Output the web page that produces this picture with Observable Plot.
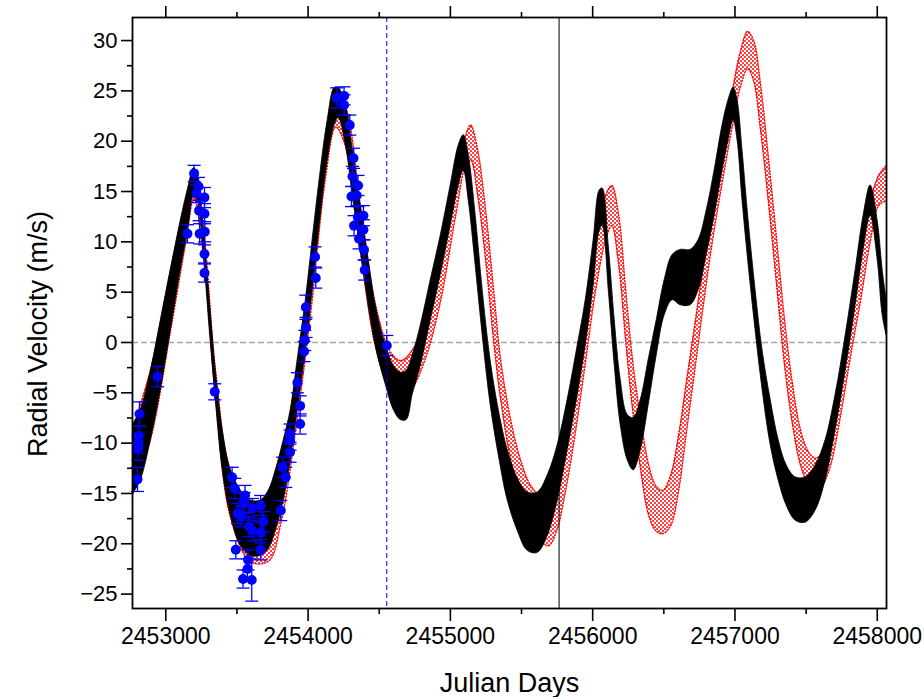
<!DOCTYPE html>
<html>
<head>
<meta charset="utf-8">
<script src="https://cdn.jsdelivr.net/npm/d3@7"></script>
<script src="https://cdn.jsdelivr.net/npm/@observablehq/plot@0.6"></script>
<style>
  html, body { margin: 0; padding: 0; background: #fff; }
  #chart { width: 924px; height: 697px; }
</style>
</head>
<body>
<div id="chart"></div>
<script>
// ---------- tick values ----------
const xMajor = [2453000, 2454000, 2455000, 2456000, 2457000, 2458000];
const xMinor = [2453500, 2454500, 2455500, 2456500, 2457500];
const yMajor = [-25, -20, -15, -10, -5, 0, 5, 10, 15, 20, 25, 30];
const yMinor = [-22.5, -17.5, -12.5, -7.5, -2.5, 2.5, 7.5, 12.5, 17.5, 22.5, 27.5];

// ---------- model 1 (black band): Julian day, upper and lower envelope (m/s) ----------
const blackJD = [2452768,2452824,2452895,2452965,2453035,2453105,2453162,2453197,2453225,2453267,2453309,2453351,2453400,2453457,2453527,2453597,2453667,2453724,2453773,2453829,2453878,2453927,2453984,2454040,2454089,2454138,2454187,2454215,2454265,2454314,2454370,2454426,2454482,2454546,2454602,2454651,2454693,2454735,2454792,2454862,2454932,2455002,2455059,2455094,2455129,2455178,2455227,2455283,2455340,2455403,2455473,2455543,2455614,2455684,2455754,2455824,2455895,2455951,2456007,2456049,2456070,2456113,2456155,2456197,2456246,2456288,2456338,2456394,2456450,2456506,2456562,2456618,2456688,2456745,2456801,2456857,2456913,2456955,2456990,2457018,2457053,2457096,2457145,2457194,2457251,2457307,2457363,2457426,2457497,2457567,2457637,2457707,2457778,2457848,2457904,2457953,2458003,2458038,2458066];
const blackHi = [-8.2,-6.7,-2.8,2.2,7.2,12.1,15.6,17.3,16.6,11.2,4.2,-2.8,-8.7,-12.7,-14.7,-15.7,-15.7,-14.7,-12.7,-9.7,-6.7,-1.7,4.2,11.2,17.1,22.1,25.3,25.3,23.6,19.1,13.6,8.2,3.2,-0.3,-2.3,-3.0,-2.8,-1.3,1.7,6.2,10.6,15.6,19.6,20.6,18.6,12.6,5.2,-1.8,-6.7,-10.7,-13.5,-14.9,-14.9,-13.2,-10.2,-5.7,-0.3,4.2,10.2,15.1,15.3,9.6,2.2,-3.7,-7.2,-7.5,-5.7,-1.7,2.2,6.2,8.7,9.2,9.2,10.2,13.1,17.1,21.6,24.1,25.3,24.1,19.1,12.1,5.2,-0.8,-5.7,-9.7,-12.2,-13.4,-13.4,-12.2,-9.7,-5.2,0.7,7.2,12.6,15.6,12.1,7.2,4.2];
const blackLo = [-15.1,-13.7,-9.7,-4.7,1.2,7.2,11.6,14.6,14.1,8.7,1.2,-5.7,-12.7,-17.2,-20.2,-21.2,-21.2,-20.5,-18.7,-15.7,-11.7,-6.7,-0.8,6.2,12.6,18.1,21.6,22.3,19.6,14.6,9.1,3.7,-0.8,-4.2,-6.7,-7.7,-7.7,-5.2,-2.3,2.2,6.7,11.6,15.6,17.1,14.1,7.6,0.7,-6.2,-11.2,-15.7,-18.7,-20.7,-20.9,-19.2,-15.7,-10.7,-5.2,-0.3,5.7,11.1,11.6,5.2,-2.3,-8.2,-11.7,-12.7,-10.7,-6.2,-1.3,2.7,4.2,3.7,3.7,5.2,8.7,12.6,17.1,20.1,22.1,20.1,14.1,7.7,1.2,-4.7,-10.2,-13.7,-16.2,-17.7,-17.9,-16.7,-13.7,-8.7,-2.8,3.7,9.2,12.6,8.2,2.7,0.7];

// ---------- model 2 (red dotted band) ----------
const redJD = [2452768,2452895,2453035,2453141,2453197,2453267,2453351,2453457,2453597,2453724,2453808,2453913,2454019,2454124,2454194,2454265,2454370,2454475,2454581,2454651,2454721,2454827,2454932,2455037,2455108,2455143,2455192,2455248,2455304,2455354,2455424,2455494,2455564,2455635,2455691,2455747,2455810,2455881,2455951,2456021,2456091,2456134,2456183,2456232,2456281,2456338,2456394,2456443,2456492,2456548,2456604,2456661,2456717,2456773,2456843,2456913,2456983,2457040,2457089,2457131,2457180,2457237,2457293,2457349,2457405,2457461,2457518,2457567,2457616,2457672,2457743,2457813,2457883,2457953,2458010,2458066];
const redHi = [-8.5,-2.6,7.4,14.2,17.1,11.0,-2.9,-12.8,-16.0,-15.0,-12.0,-3.5,8.0,20.0,24.8,23.3,13.3,3.7,-1.0,-1.8,-1.0,2.4,8.7,16.6,20.6,21.6,19.1,13.1,5.2,-1.8,-7.7,-11.7,-14.2,-15.2,-14.9,-12.7,-8.7,-2.8,3.2,10.2,14.6,15.6,12.6,5.2,-1.8,-7.7,-12.2,-14.2,-14.7,-13.2,-9.2,-3.7,1.7,7.2,14.1,20.1,25.1,29.0,30.9,30.0,25.6,18.1,10.2,2.2,-4.2,-8.7,-10.9,-11.5,-10.9,-8.2,-3.2,2.7,8.7,14.1,16.6,17.6];
const redLo = [-15.0,-9.5,1.3,10.0,14.3,8.4,-5.8,-17.5,-21.8,-21.7,-18.0,-8.7,3.0,16.5,21.4,19.4,8.8,-0.5,-4.8,-5.5,-4.8,-1.5,4.2,12.6,17.6,18.1,14.6,8.2,0.2,-5.7,-11.7,-15.7,-18.2,-19.7,-20.2,-18.7,-14.7,-8.7,-1.8,5.2,10.2,11.6,7.7,0.2,-6.7,-12.7,-17.2,-18.7,-19.0,-18.2,-14.7,-8.7,-2.8,3.2,10.2,16.1,21.6,25.5,27.2,26.0,21.1,13.7,5.7,-2.3,-8.2,-12.2,-14.2,-14.9,-14.2,-12.2,-7.2,-1.3,4.2,10.2,13.6,14.1];

// ---------- observations (blue): Julian day, RV (m/s), error (m/s) ----------
const obsJD  = [2452801,2452805,2452807,2452810,2452815,2452942,2453152,2453199,2453216,2453230,2453234,2453238,2453272,2453272,2453274,2453272,2453272,2453344,2453466,2453485,2453492,2453504,2453532,2453546,2453543,2453550,2453557,2453574,2453578,2453585,2453604,2453609,2453609,2453667,2453667,2453667,2453686,2453808,2453820,2453843,2453873,2453873,2453873,2453925,2453944,2453944,2453972,2453977,2453986,2453984,2454049,2454054,2454201,2454253,2454253,2454293,2454319,2454312,2454351,2454342,2454305,2454389,2454351,2454323,2454389,2454358,2454393,2454398,2454553];
const obsRV  = [-13.6,-10.5,-10.0,-9.3,-7.1,-3.4,10.8,16.8,14.8,15.5,13.1,10.8,14.4,12.8,11.0,8.8,6.9,-4.9,-13.4,-14.5,-20.6,-17.0,-17.3,-16.0,-23.5,-15.9,-15.2,-22.5,-21.6,-18.3,-23.6,-18.7,-16.5,-16.2,-18.9,-20.6,-17.8,-16.7,-12.4,-13.4,-10.9,-9.7,-9.1,-4.0,-8.1,-6.3,-0.9,0.2,1.5,3.5,8.5,6.4,24.3,24.5,23.6,21.6,18.3,16.5,15.6,14.6,14.5,12.6,12.5,11.6,11.2,10.3,9.2,7.2,-0.3];
const obsErr = [1.2,1.2,1.0,1.0,1.2,1.0,0.9,0.8,0.9,0.9,1.0,1.0,1.0,1.0,1.0,0.9,0.9,0.8,1.0,1.0,0.9,1.0,1.0,1.0,0.9,1.0,1.0,1.0,1.0,1.0,2.1,1.0,1.0,1.0,1.0,1.0,1.0,1.0,1.0,1.0,1.0,1.0,1.0,1.0,1.0,1.0,1.0,1.0,1.0,1.2,1.0,1.0,1.0,0.9,1.0,1.0,1.0,1.0,1.0,1.0,1.0,1.0,1.0,1.0,1.0,1.0,1.0,1.0,1.0];

// ---------- reference lines ----------
const blueLineJD = [2454553];
const blackLineJD = [2455764];
const zeroLine = [0];

// ---------- tables ----------
const black = blackJD.map((d, i) => ({jd: d, hi: blackHi[i], lo: blackLo[i]}));
const red = redJD.map((d, i) => ({jd: d, hi: redHi[i], lo: redLo[i]}));
const obs = obsJD.map((d, i) => ({jd: d, rv: obsRV[i], err: obsErr[i]}));

const capSymbol = {
  draw(ctx, size) {
    const w = Math.sqrt(size / Math.PI);
    ctx.moveTo(-w, 0);
    ctx.lineTo(w, 0);
  }
};

const FONT = "'Liberation Sans', Arial, Helvetica, sans-serif";

const chart = Plot.plot({
  width: 924,
  height: 697,
  marginLeft: 132,
  marginRight: 38,
  marginTop: 17,
  marginBottom: 89,
  style: {fontFamily: FONT, color: "black", background: "white", overflow: "visible"},
  x: {domain: [2452766, 2458065]},
  y: {domain: [-26.43, 32.29]},
  marks: [
    // zero line
    Plot.ruleY(zeroLine, {stroke: "#a8a8a8", strokeWidth: 1.5, strokeDasharray: "6,3"}),
    // red model band
    Plot.areaY(red, {x: "jd", y1: "lo", y2: "hi", fill: "url(#redDots)", curve: "catmull-rom", clip: true}),
    Plot.lineY(red, {x: "jd", y: "hi", stroke: "red", strokeWidth: 1.4, strokeDasharray: "1.2,1.8", curve: "catmull-rom", clip: true}),
    Plot.lineY(red, {x: "jd", y: "lo", stroke: "red", strokeWidth: 1.4, strokeDasharray: "1.2,1.8", curve: "catmull-rom", clip: true}),
    // black model band
    Plot.areaY(black, {x: "jd", y1: "lo", y2: "hi", fill: "black", stroke: "black", strokeWidth: 0.8, curve: "catmull-rom", clip: true}),
    // vertical markers
    Plot.ruleX(blueLineJD, {stroke: "blue", strokeWidth: 1, strokeDasharray: "5,3"}),
    Plot.ruleX(blackLineJD, {stroke: "black", strokeWidth: 1}),
    // observations with error bars
    Plot.ruleX(obs, {x: "jd", y1: d => d.rv - d.err, y2: d => d.rv + d.err, stroke: "blue", strokeWidth: 1.3}),
    Plot.dot(obs, {x: "jd", y: d => d.rv + d.err, symbol: capSymbol, r: 6.5, stroke: "blue", strokeWidth: 1.3, fill: "none"}),
    Plot.dot(obs, {x: "jd", y: d => d.rv - d.err, symbol: capSymbol, r: 6.5, stroke: "blue", strokeWidth: 1.3, fill: "none"}),
    Plot.dot(obs, {x: "jd", y: "rv", r: 5, fill: "blue", stroke: "none"}),
    // axes
    Plot.axisX({ticks: xMajor, tickSize: 13, tickPadding: 6, tickFormat: d => String(d), fontSize: 23, strokeWidth: 1.6, label: null}),
    Plot.axisX({ticks: xMinor, tickSize: 6, text: null, strokeWidth: 1.6, label: null}),
    Plot.axisX({anchor: "top", ticks: xMajor, tickSize: 12, text: null, strokeWidth: 1.6, label: null}),
    Plot.axisX({anchor: "top", ticks: xMinor, tickSize: 6, text: null, strokeWidth: 1.6, label: null}),
    Plot.axisY({ticks: yMajor, tickSize: 11, tickPadding: 4, fontSize: 22, strokeWidth: 1.6, label: null}),
    Plot.axisY({ticks: yMinor, tickSize: 5, text: null, strokeWidth: 1.6, label: null}),
    Plot.frame({stroke: "black", strokeWidth: 1.8}),
    // axis titles
    Plot.text(["Julian Days"], {frameAnchor: "bottom", textAnchor: "middle", lineAnchor: "middle", dy: 75, fontSize: 27, fill: "black"}),
    Plot.text(["Radial Velocity (m/s)"], {frameAnchor: "left", textAnchor: "middle", lineAnchor: "middle", dx: -94, dy: 21, rotate: -90, fontSize: 27, fill: "black"})
  ]
});

// pattern for the red dotted band texture
const ns = "http://www.w3.org/2000/svg";
const defs = document.createElementNS(ns, "defs");
const pat = document.createElementNS(ns, "pattern");
pat.setAttribute("id", "redDots");
pat.setAttribute("patternUnits", "userSpaceOnUse");
pat.setAttribute("width", "4");
pat.setAttribute("height", "4");
[[1, 1], [3, 3]].forEach(([cx, cy]) => {
  const c = document.createElementNS(ns, "circle");
  c.setAttribute("cx", cx);
  c.setAttribute("cy", cy);
  c.setAttribute("r", "1");
  c.setAttribute("fill", "red");
  pat.appendChild(c);
});
defs.appendChild(pat);
chart.insertBefore(defs, chart.firstChild);

document.getElementById("chart").appendChild(chart);
</script>
</body>
</html>
